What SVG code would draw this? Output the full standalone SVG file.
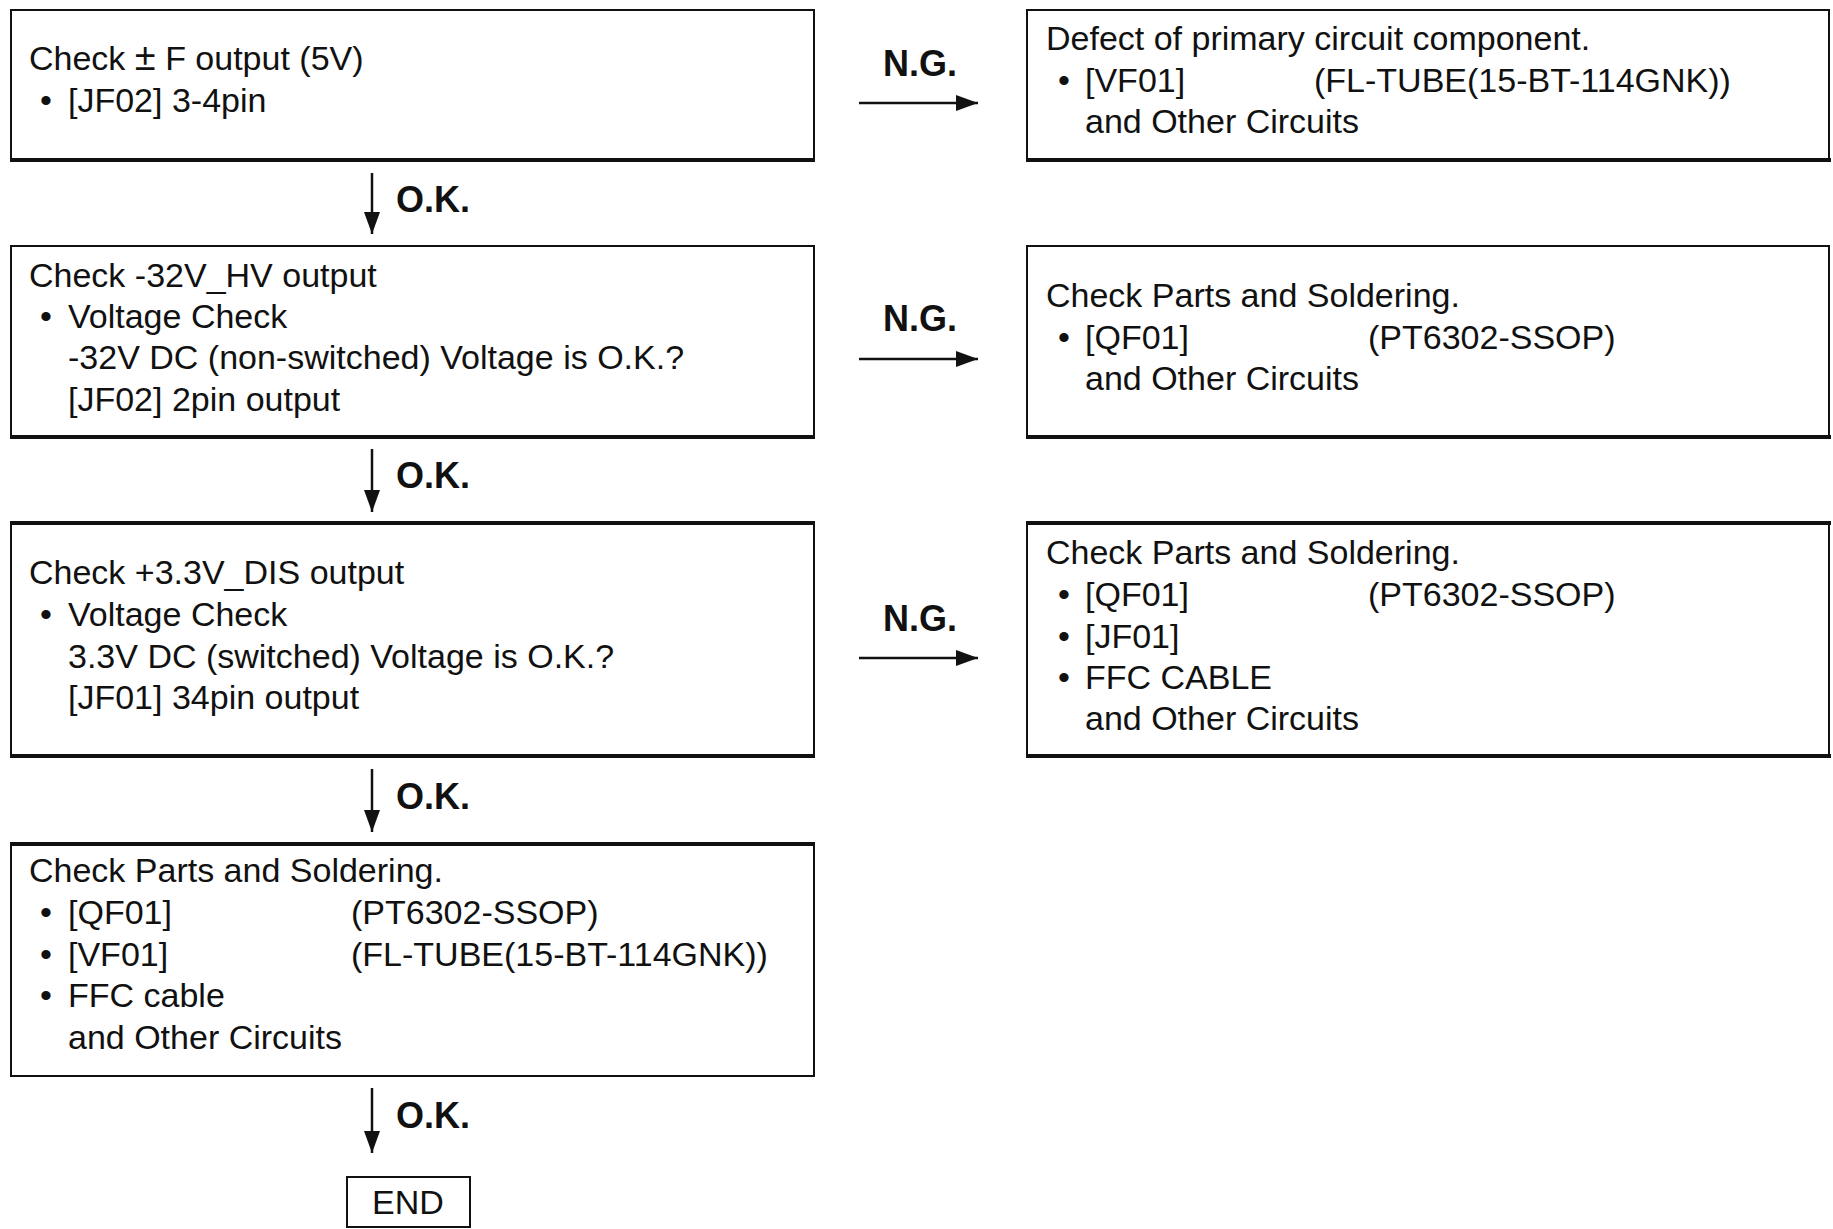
<svg xmlns="http://www.w3.org/2000/svg" width="1833" height="1229" viewBox="0 0 1833 1229">
<defs>
<style>
.box{fill:#fff;stroke:#111;stroke-width:2}
.shadow{stroke:#111;stroke-width:4}
.t{font-family:"Liberation Sans",Arial,sans-serif;font-size:34px;fill:#111}
.lbl{font-family:"Liberation Sans",Arial,sans-serif;font-size:36px;font-weight:bold;fill:#111}
.ln{stroke:#111;stroke-width:2.5;fill:none}
</style>
<marker id="ah" viewBox="0 0 22 16" refX="22" refY="8" markerWidth="22" markerHeight="16" markerUnits="userSpaceOnUse" orient="auto">
<path d="M0,0 L22,8 L0,16 z" fill="#111"/>
</marker>
</defs>
<rect width="1833" height="1229" fill="#fff"/>

<g id="n1">
<rect class="box" x="11" y="10" width="803" height="150"/>
<line class="shadow" x1="10" y1="160" x2="815" y2="160"/>
<text class="t" x="29" y="70">Check <tspan font-size="38">±</tspan> F output (5V)</text>
<text class="t" x="40" y="112">•</text><text class="t" x="68" y="112">[JF02] 3-4pin</text>
</g>

<g id="n2">
<rect class="box" x="11" y="246" width="803" height="191"/>
<line class="shadow" x1="10" y1="437" x2="815" y2="437"/>
<text class="t" x="29" y="287">Check -32V_HV output</text>
<text class="t" x="40" y="328">•</text><text class="t" x="68" y="328">Voltage Check</text>
<text class="t" x="68" y="369">-32V DC (non-switched) Voltage is O.K.?</text>
<text class="t" x="68" y="411">[JF02] 2pin output</text>
</g>

<g id="n3">
<rect class="box" x="11" y="523" width="803" height="233"/>
<line class="shadow" x1="10" y1="523" x2="815" y2="523"/>
<line class="shadow" x1="10" y1="756" x2="815" y2="756"/>
<text class="t" x="29" y="584">Check +3.3V_DIS output</text>
<text class="t" x="40" y="626">•</text><text class="t" x="68" y="626">Voltage Check</text>
<text class="t" x="68" y="668">3.3V DC (switched) Voltage is O.K.?</text>
<text class="t" x="68" y="709">[JF01] 34pin output</text>
</g>

<g id="n4">
<rect class="box" x="11" y="844" width="803" height="232"/>
<line class="shadow" x1="10" y1="844" x2="815" y2="844"/>
<text class="t" x="29" y="882">Check Parts and Soldering.</text>
<text class="t" x="40" y="924">•</text><text class="t" x="68" y="924">[QF01]</text><text class="t" x="351" y="924">(PT6302-SSOP)</text>
<text class="t" x="40" y="966">•</text><text class="t" x="68" y="966">[VF01]</text><text class="t" x="351" y="966">(FL-TUBE(15-BT-114GNK))</text>
<text class="t" x="40" y="1007">•</text><text class="t" x="68" y="1007">FFC cable</text>
<text class="t" x="68" y="1049">and Other Circuits</text>
</g>

<g id="end">
<rect class="box" x="347" y="1177" width="123" height="50"/>
<text class="t" x="408" y="1214" text-anchor="middle">END</text>
</g>

<g id="r1">
<rect class="box" x="1027" y="10" width="802" height="150"/>
<line class="shadow" x1="1026" y1="160" x2="1831" y2="160"/>
<text class="t" x="1046" y="50">Defect of primary circuit component.</text>
<text class="t" x="1058" y="92">•</text><text class="t" x="1085" y="92">[VF01]</text><text class="t" x="1314" y="92">(FL-TUBE(15-BT-114GNK))</text>
<text class="t" x="1085" y="133">and Other Circuits</text>
</g>

<g id="r2">
<rect class="box" x="1027" y="246" width="802" height="191"/>
<line class="shadow" x1="1026" y1="437" x2="1831" y2="437"/>
<text class="t" x="1046" y="307">Check Parts and Soldering.</text>
<text class="t" x="1058" y="349">•</text><text class="t" x="1085" y="349">[QF01]</text><text class="t" x="1368" y="349">(PT6302-SSOP)</text>
<text class="t" x="1085" y="390">and Other Circuits</text>
</g>

<g id="r3">
<rect class="box" x="1027" y="523" width="802" height="233"/>
<line class="shadow" x1="1026" y1="523" x2="1831" y2="523"/>
<line class="shadow" x1="1026" y1="756" x2="1831" y2="756"/>
<text class="t" x="1046" y="564">Check Parts and Soldering.</text>
<text class="t" x="1058" y="606">•</text><text class="t" x="1085" y="606">[QF01]</text><text class="t" x="1368" y="606">(PT6302-SSOP)</text>
<text class="t" x="1058" y="648">•</text><text class="t" x="1085" y="648">[JF01]</text>
<text class="t" x="1058" y="689">•</text><text class="t" x="1085" y="689">FFC CABLE</text>
<text class="t" x="1085" y="730">and Other Circuits</text>
</g>

<g id="connectors">
<line class="ln" x1="372" y1="173" x2="372" y2="234" marker-end="url(#ah)"/>
<line class="ln" x1="372" y1="449" x2="372" y2="512" marker-end="url(#ah)"/>
<line class="ln" x1="372" y1="769" x2="372" y2="832" marker-end="url(#ah)"/>
<line class="ln" x1="372" y1="1088" x2="372" y2="1153" marker-end="url(#ah)"/>
<line class="ln" x1="859" y1="103" x2="978" y2="103" marker-end="url(#ah)"/>
<line class="ln" x1="859" y1="359" x2="978" y2="359" marker-end="url(#ah)"/>
<line class="ln" x1="859" y1="658" x2="978" y2="658" marker-end="url(#ah)"/>
<text class="lbl" x="396" y="212">O.K.</text>
<text class="lbl" x="396" y="488">O.K.</text>
<text class="lbl" x="396" y="809">O.K.</text>
<text class="lbl" x="396" y="1128">O.K.</text>
<text class="lbl" x="920" y="76" text-anchor="middle">N.G.</text>
<text class="lbl" x="920" y="331" text-anchor="middle">N.G.</text>
<text class="lbl" x="920" y="631" text-anchor="middle">N.G.</text>
</g>
</svg>
